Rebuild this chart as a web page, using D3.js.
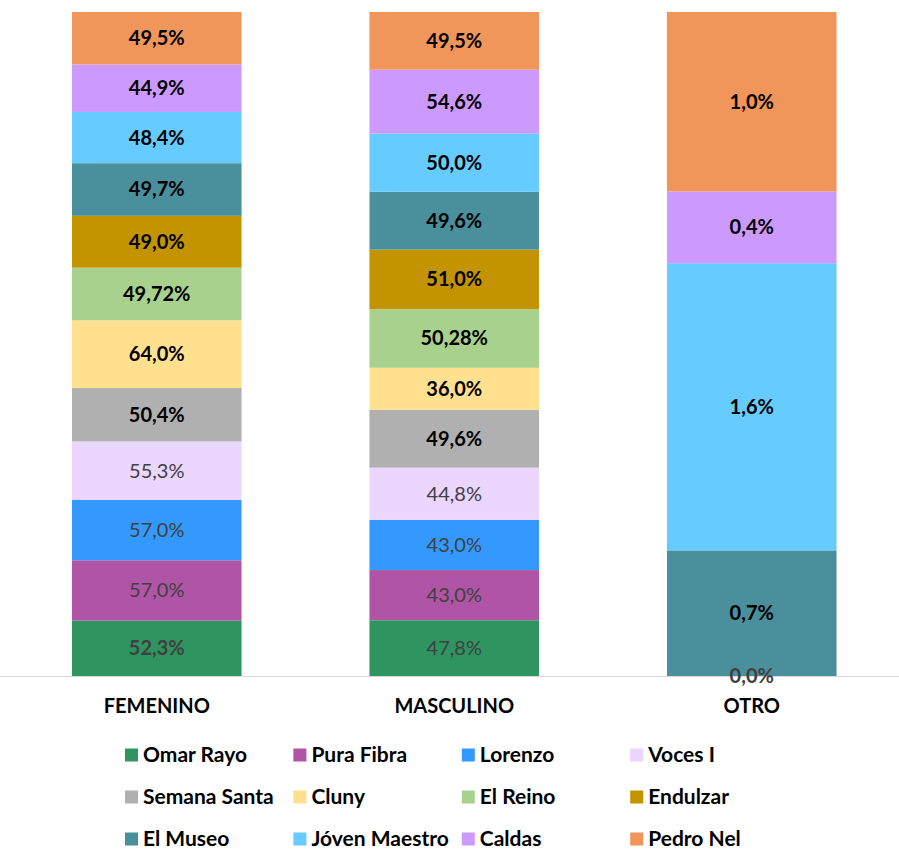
<!DOCTYPE html>
<html>
<head>
<meta charset="utf-8">
<script src="https://cdn.jsdelivr.net/npm/d3@7"></script>
<style>
  body { margin: 0; background: #fff; }
  text { font-family: Lato, "Open Sans", sans-serif; }
</style>
</head>
<body>
<div id="chart"></div>
<script>
// categorias (columnas)
const categories = ["FEMENINO", "MASCULINO", "OTRO"];

// series (de abajo hacia arriba)
const seriesNames = ["Omar Rayo", "Pura Fibra", "Lorenzo", "Voces I", "Semana Santa", "Cluny",
  "El Reino", "Endulzar", "El Museo", "Jóven Maestro", "Caldas", "Pedro Nel"];

// valores en %, uno por categoria (null = sin dato)
const omarRayo     = [52.3, 47.8, 0.0];
const puraFibra    = [57.0, 43.0, null];
const lorenzo      = [57.0, 43.0, null];
const vocesI       = [55.3, 44.8, null];
const semanaSanta  = [50.4, 49.6, null];
const cluny        = [64.0, 36.0, null];
const elReino      = [49.72, 50.28, null];
const endulzar     = [49.0, 51.0, null];
const elMuseo      = [49.7, 49.6, 0.7];
const jovenMaestro = [48.4, 50.0, 1.6];
const caldas       = [44.9, 54.6, 0.4];
const pedroNel     = [49.5, 49.5, 1.0];

// decimales de cada etiqueta
const decimals = [1, 1, 1, 1, 1, 1, 2, 1, 1, 1, 1, 1];

// etiquetas en negrita (por serie, por categoria)
const boldFlags = [
  [true, false, true], [false, false, true], [false, false, true], [false, false, true],
  [true, true, true], [true, true, true], [true, true, true], [true, true, true],
  [true, true, true], [true, true, true], [true, true, true], [true, true, true]
];

const colors = ["#2e9460", "#b055a5", "#3399ff", "#ead6fe", "#b0b0b0", "#ffe08f",
  "#a9d18e", "#c49300", "#4a8f9c", "#66ccff", "#cc99ff", "#f0965a"];
const labelColors = ["#404040", "#404040", "#404040", "#404040", "#000", "#000",
  "#000", "#000", "#000", "#000", "#000", "#000"];

const values = [omarRayo, puraFibra, lorenzo, vocesI, semanaSanta, cluny,
  elReino, endulzar, elMuseo, jovenMaestro, caldas, pedroNel];

const width = 899, height = 852;
const plotTop = 12, plotBottom = 676;

const svg = d3.select("#chart").append("svg")
  .attr("width", width)
  .attr("height", height);

const x = d3.scaleBand()
  .domain(categories)
  .range([8, 900.5])
  .paddingInner(0.43)
  .paddingOuter(0.215);

const y = d3.scaleLinear().domain([0, 1]).range([plotBottom, plotTop]);

// tabla para el apilado (fraccion del total de cada columna)
const table = categories.map((c, ci) => {
  const total = d3.sum(values, v => v[ci] || 0);
  const row = { cat: c };
  seriesNames.forEach((s, si) => { row[s] = (values[si][ci] || 0) / total; });
  return row;
});

const stack = d3.stack().keys(seriesNames)(table);

const layers = svg.append("g")
  .selectAll("g")
  .data(stack)
  .enter().append("g")
  .attr("fill", (d, i) => colors[i]);

layers.selectAll("rect")
  .data(d => d)
  .enter().append("rect")
  .attr("x", d => x(d.data.cat))
  .attr("width", x.bandwidth())
  .attr("y", d => y(d[1]))
  .attr("height", d => y(d[0]) - y(d[1]));

// eje
svg.append("line")
  .attr("x1", 0).attr("x2", width)
  .attr("y1", plotBottom + 0.5).attr("y2", plotBottom + 0.5)
  .attr("stroke", "#d9d9d9")
  .attr("stroke-width", 1);

// etiquetas de datos
const fmt = (v, dec) => v.toFixed(dec).replace(".", ",") + "%";

stack.forEach((layer, si) => {
  layer.forEach((d, ci) => {
    const v = values[si][ci];
    if (v === null) return;
    const yc = (y(d[0]) + y(d[1])) / 2;
    const bold = boldFlags[si][ci];
    svg.append("text")
      .attr("x", x(d.data.cat) + x.bandwidth() / 2)
      .attr("y", yc)
      .attr("dy", "0.35em")
      .attr("text-anchor", "middle")
      .attr("font-size", 20)
      .attr("font-weight", bold ? "bold" : "normal")
      .attr("fill", labelColors[si])
      .text(fmt(v, decimals[si]));
  });
});

// etiquetas de categoria
svg.append("g")
  .selectAll("text")
  .data(categories)
  .enter().append("text")
  .attr("x", d => x(d) + x.bandwidth() / 2)
  .attr("y", 706)
  .attr("dy", "0.35em")
  .attr("text-anchor", "middle")
  .attr("font-size", 20)
  .attr("font-weight", "bold")
  .attr("fill", "#000")
  .text(d => d);

// leyenda
const legend = svg.append("g")
  .selectAll("g")
  .data(seriesNames)
  .enter().append("g")
  .attr("transform", (d, i) => `translate(${125 + (i % 4) * 168.4}, ${755 + Math.floor(i / 4) * 42})`);

legend.append("rect")
  .attr("x", 0).attr("y", -6.5)
  .attr("width", 13).attr("height", 13)
  .attr("fill", (d, i) => colors[i]);

legend.append("text")
  .attr("x", 18)
  .attr("y", 0)
  .attr("dy", "0.35em")
  .attr("font-size", 21)
  .attr("font-weight", "bold")
  .attr("fill", "#000")
  .text(d => d);
</script>
</body>
</html>
